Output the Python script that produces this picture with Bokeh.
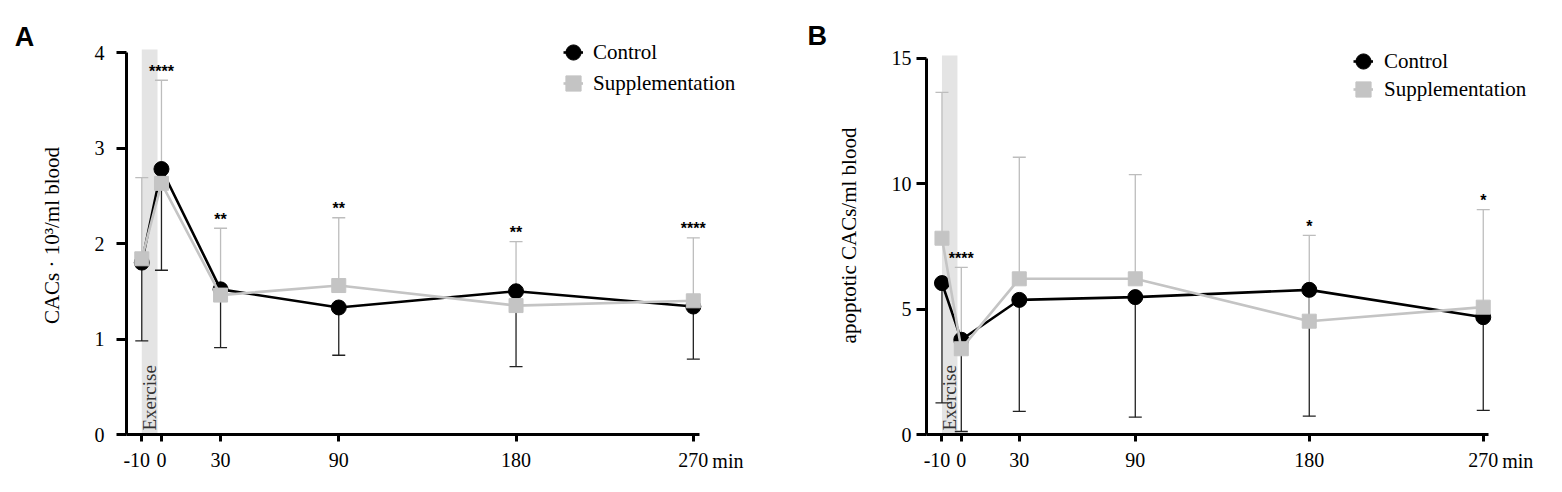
import math
from bokeh.plotting import figure
from bokeh.models import (ColumnDataSource, Whisker, TeeHead, BoxAnnotation, Label,
                          Legend, LegendItem, Range1d, FixedTicker)
from bokeh.layouts import row
from bokeh.embed import file_html
from bokeh.resources import INLINE
from bokeh.core.properties import value

# ---------------- data ----------------
times = [-10, 0, 30, 90, 180, 270]
tick_labels = ["-10\u2007", "0", "30", "90", "180", "270"]
exercise_start = -10
exercise_end = -2
series_names = ["Control", "Supplementation"]

# Panel A: CACs · 10³/ml blood
a_ctrl_mean = [1.80, 2.78, 1.52, 1.33, 1.50, 1.34]
a_ctrl_lower = [0.98, 1.72, 0.91, 0.83, 0.71, 0.79]
a_supp_mean = [1.84, 2.63, 1.46, 1.56, 1.35, 1.40]
a_supp_upper = [2.69, 3.71, 2.16, 2.27, 2.02, 2.06]
a_stars = ["", "****", "**", "**", "**", "****"]
a_yticks = [0, 1, 2, 3, 4]

# Panel B: apoptotic CACs/ml blood
b_ctrl_mean = [6.04, 3.78, 5.37, 5.48, 5.77, 4.68]
b_ctrl_lower = [1.26, 0.12, 0.92, 0.69, 0.73, 0.96]
b_supp_mean = [7.83, 3.42, 6.21, 6.21, 4.52, 5.08]
b_supp_upper = [13.65, 6.67, 11.06, 10.37, 7.94, 8.97]
b_stars = ["", "****", "", "", "*", "*"]
b_yticks = [0, 5, 10, 15]

BLACK = "#000000"
GRAY = "#c4c4c4"
BAR_BLACK = "#222222"
BAR_GRAY = "#bdbdbd"
BAND = "#e4e4e4"
SERIF = "Liberation Serif"
SANS = "Liberation Sans"


def make_panel(cfg):
    bl, br, bt, bb = cfg["borders"]
    fw, fh = cfg["frame"]
    y_top = cfg["yticks"][-1]
    ppu = fh / cfg["y_end"]          # pixels per y unit
    p = figure(width=bl + fw + br, height=bt + fh + bb, output_backend="svg",
               toolbar_location=None,
               x_range=Range1d(*cfg["x_range"]), y_range=Range1d(0, cfg["y_end"]),
               min_border_left=bl, min_border_right=br, min_border_top=bt,
               min_border_bottom=bb)
    p.title = None
    p.outline_line_color = None
    p.xgrid.visible = False
    p.ygrid.visible = False

    # exercise band
    p.add_layout(BoxAnnotation(left=exercise_start, right=exercise_end, bottom=0,
                               top=y_top + 3 / ppu, fill_color=BAND, fill_alpha=1.0,
                               line_alpha=0, level="underlay"))

    # error bars
    src_c = ColumnDataSource(dict(x=times, m=cfg["ctrl_mean"], lo=cfg["ctrl_lower"]))
    src_s = ColumnDataSource(dict(x=times, m=cfg["supp_mean"], up=cfg["supp_upper"]))
    p.add_layout(Whisker(base="x", upper="m", lower="lo", source=src_c,
                         line_color=BAR_BLACK, line_width=1.3, upper_head=None,
                         lower_head=TeeHead(size=13, line_color=BAR_BLACK, line_width=1.3)))
    p.add_layout(Whisker(base="x", upper="up", lower="m", source=src_s,
                         line_color=BAR_GRAY, line_width=1.3, lower_head=None,
                         upper_head=TeeHead(size=13, line_color=BAR_GRAY, line_width=1.3)))

    # exercise text
    p.text(x=[(exercise_start + exercise_end) / 2], y=[0], text=["Exercise"],
           angle=math.pi / 2, text_align="left", text_baseline="middle",
           text_font=value(SERIF), text_font_size="19px", text_color="#333333",
           y_offset=-4)

    # series
    lc = p.line(times, cfg["ctrl_mean"], line_color=BLACK, line_width=2.6)
    sc = p.scatter(times, cfg["ctrl_mean"], marker="circle", size=15, fill_color=BLACK,
                   line_color=BLACK)
    ls = p.line(times, cfg["supp_mean"], line_color=GRAY, line_width=2.6)
    ss = p.scatter(times, cfg["supp_mean"], marker="square", size=14, fill_color=GRAY,
                   line_color=GRAY)

    # significance stars
    p.text(x=times, y=cfg["supp_upper"], text=cfg["stars"], text_align="center",
           text_baseline="alphabetic", text_font=value(SANS), text_font_style="bold",
           text_font_size="16px", text_color=BLACK, y_offset=-9)

    # axes
    for ax in (p.xaxis[0], p.yaxis[0]):
        ax.axis_line_width = 3
        ax.axis_line_color = BLACK
        ax.major_tick_line_width = 3
        ax.major_tick_line_color = BLACK
        ax.major_tick_in = 0
        ax.minor_tick_out = 0
        ax.minor_tick_in = 0
        ax.major_label_text_font = SERIF
        ax.major_label_text_font_size = "20px"
        ax.major_label_text_color = BLACK
    p.xaxis.bounds = cfg["x_bounds"]
    p.xaxis.ticker = FixedTicker(ticks=times)
    p.xaxis.major_label_overrides = {t: l for t, l in zip(times, tick_labels)}
    p.xaxis.major_tick_out = 7
    p.xaxis.major_label_standoff = 7
    p.yaxis.bounds = (0, y_top)
    p.yaxis.ticker = FixedTicker(ticks=cfg["yticks"])
    p.yaxis.major_tick_out = 10
    p.yaxis.major_label_standoff = cfg["ytick_standoff"]
    p.yaxis.axis_label = cfg["ylabel"]
    p.yaxis.axis_label_text_font = SERIF
    p.yaxis.axis_label_text_font_size = "21px"
    p.yaxis.axis_label_text_font_style = "normal"
    p.yaxis.axis_label_text_color = BLACK
    p.yaxis.axis_label_standoff = cfg["ylab_standoff"]

    # panel letter (side panel, so not clipped by the frame)
    p.add_layout(Label(x=cfg["letter_x"], y=y_top + cfg["letter_rise"] / ppu,
                       text=cfg["letter"], text_align="left", text_baseline="alphabetic",
                       text_font=SANS, text_font_style="bold", text_font_size="27px",
                       text_color=BLACK), "above")
    # "min" unit label
    p.add_layout(Label(x=times[-1], y=-26 / ppu, text="min", x_offset=19,
                       text_align="left", text_baseline="alphabetic", text_font=SERIF,
                       text_font_size="20px", text_color=BLACK), cfg["min_side"])

    # legend: one legend per row, line + label, plus larger marker overlay
    H = 38
    gx, standoff = cfg["legend_x"], cfg["legend_standoff"]
    for name, line_r, mark_r, cy in zip(series_names, [lc, ls], [sc, ss],
                                        cfg["legend_rows"]):
        vy = fh - cy - H / 2
        p.add_layout(Legend(items=[LegendItem(label=name, renderers=[line_r])],
                            location=(gx, vy), border_line_color=None,
                            background_fill_alpha=0, padding=0, margin=0,
                            label_standoff=standoff, glyph_width=20, glyph_height=H,
                            label_height=H, label_text_font=SERIF,
                            label_text_font_size="21px", label_text_baseline="middle",
                            label_text_color=BLACK))
        p.add_layout(Legend(items=[LegendItem(label=" ", renderers=[mark_r])],
                            location=(gx + 10 - H / 2, vy), border_line_color=None,
                            background_fill_alpha=0, padding=0, margin=0,
                            glyph_width=H, glyph_height=H, label_height=H,
                            label_standoff=0, label_text_font_size="4px"))
    return p


# frame top at page y 36, frame bottom at 434; legend rows measured from frame top
cfgA = dict(letter="A", ylabel="CACs · 10³/ml blood", ctrl_mean=a_ctrl_mean,
            ctrl_lower=a_ctrl_lower, supp_mean=a_supp_mean, supp_upper=a_supp_upper,
            stars=a_stars, yticks=a_yticks, y_end=4.168,
            x_range=(-17.75, 304.1), x_bounds=(-17.75, 273.1),
            borders=(126, 38, 36, 50), frame=(634, 398),
            ylab_standoff=28, ytick_standoff=12, letter_x=-74.5, letter_rise=16,
            min_side="right", legend_x=437, legend_standoff=10, legend_rows=[16, 47])
cfgB = dict(letter="B", ylabel="apoptotic CACs/ml blood", ctrl_mean=b_ctrl_mean,
            ctrl_lower=b_ctrl_lower, supp_mean=b_supp_mean, supp_upper=b_supp_upper,
            stars=b_stars, yticks=b_yticks, y_end=15.876,
            x_range=(-18.0, 302.2), x_bounds=(-18.0, 272.8),
            borders=(128, 5, 36, 50), frame=(619, 398),
            ylab_standoff=28, ytick_standoff=5, letter_x=-79.5, letter_rise=22,
            min_side="left", legend_x=427, legend_standoff=11, legend_rows=[25, 53])

pA = make_panel(cfgA)
pB = make_panel(cfgB)

layout = row(pA, pB)
open("out.html", "w").write(file_html(layout, INLINE))
